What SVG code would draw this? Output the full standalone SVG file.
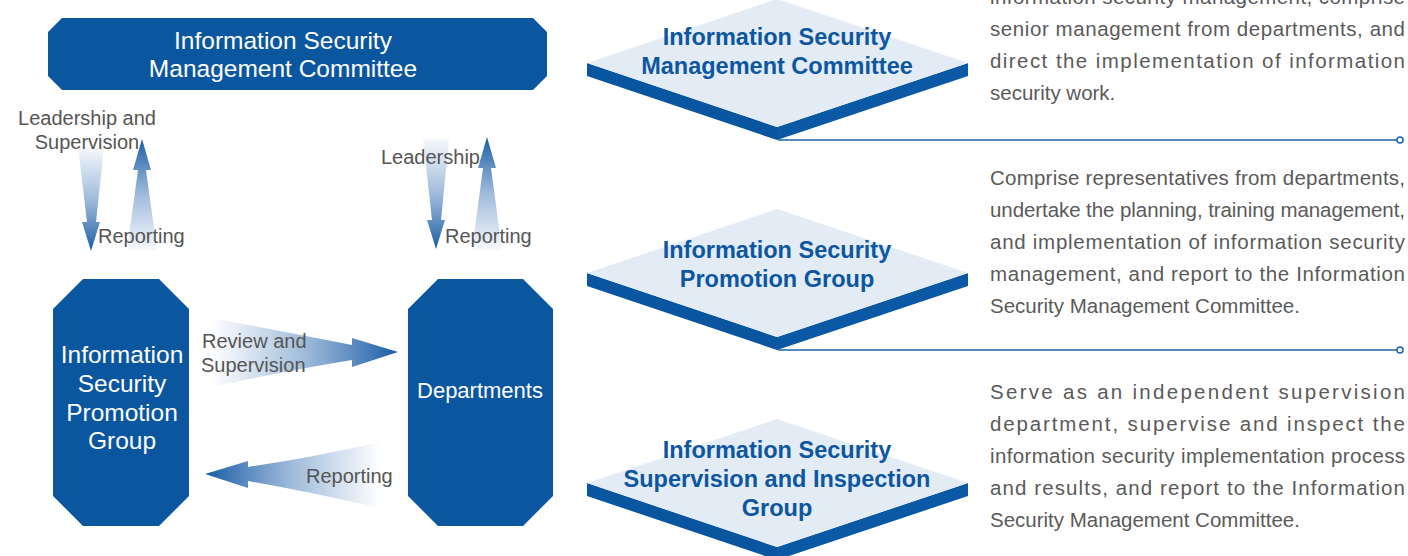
<svg xmlns="http://www.w3.org/2000/svg" width="1408" height="556" viewBox="0 0 1408 556">
<style>
.box{fill:#0a569f}
.wt{font-family:"Liberation Sans",Arial,sans-serif;fill:#ffffff;text-anchor:middle}
.lbl{font-family:"Liberation Sans",Arial,sans-serif;font-size:20px;fill:#555555}
.dtop{fill:#e3ecf5}
.dl{fill:#0a55a0}
.dr{fill:#0b58a4}
.dt{font-family:"Liberation Sans",Arial,sans-serif;font-size:23.5px;font-weight:bold;fill:#0d56a0;text-anchor:middle}
.desc{font-family:"Liberation Sans",Arial,sans-serif;font-size:20.5px;fill:#5a5a5a}
.sep{stroke:#1c62ab;stroke-width:1.5;fill:none}
.dot{stroke:#1c62ab;stroke-width:1.5;fill:#ffffff}
</style>
<defs>
<linearGradient id="gDown" x1="0" y1="0" x2="0" y2="1">
<stop offset="0" stop-color="#2a68ae" stop-opacity="0.04"/>
<stop offset="0.5" stop-color="#2a68ae" stop-opacity="0.45"/>
<stop offset="1" stop-color="#1a5ca6" stop-opacity="1"/>
</linearGradient>
<linearGradient id="gUp" x1="0" y1="1" x2="0" y2="0">
<stop offset="0" stop-color="#2a68ae" stop-opacity="0.04"/>
<stop offset="0.5" stop-color="#2a68ae" stop-opacity="0.45"/>
<stop offset="1" stop-color="#1a5ca6" stop-opacity="1"/>
</linearGradient>
<linearGradient id="gRight" x1="0" y1="0" x2="1" y2="0">
<stop offset="0" stop-color="#2a68ae" stop-opacity="0"/>
<stop offset="0.5" stop-color="#2a68ae" stop-opacity="0.45"/>
<stop offset="1" stop-color="#1a5ca6" stop-opacity="1"/>
</linearGradient>
<linearGradient id="gLeft" x1="1" y1="0" x2="0" y2="0">
<stop offset="0" stop-color="#2a68ae" stop-opacity="0"/>
<stop offset="0.5" stop-color="#2a68ae" stop-opacity="0.45"/>
<stop offset="1" stop-color="#1a5ca6" stop-opacity="1"/>
</linearGradient>
</defs>

<g id="connectors">
<path d="M78,147 L104,147 L96,222 L100,222 L91,251 L82,222 L87,222 Z" fill="url(#gDown)"/>
<path d="M142,139 L151,170 L146,170 L157,250 L127,250 L138,170 L133,170 Z" fill="url(#gUp)"/>
<path d="M423,139 L449,139 L441,220 L445,220 L436,249 L427,220 L432,220 Z" fill="url(#gDown)"/>
<path d="M487,137 L496,168 L491,168 L502,250 L472,250 L483,168 L478,168 Z" fill="url(#gUp)"/>
<path d="M212,318 Q290,333 352,345 L352,338 L398,352 L352,367 L352,360 Q290,370 212,387 Z" fill="url(#gRight)"/>
<path d="M205,474 L248,461 L248,467 Q310,458 380,442 L380,508 Q310,492 248,481 L248,488 Z" fill="url(#gLeft)"/>
<text class="lbl" x="87" y="125" text-anchor="middle">Leadership and</text>
<text class="lbl" x="87" y="149" text-anchor="middle">Supervision</text>
<text class="lbl" x="98" y="243">Reporting</text>
<text class="lbl" x="381" y="164">Leadership</text>
<text class="lbl" x="445" y="243">Reporting</text>
<text class="lbl" x="202" y="348">Review and</text>
<text class="lbl" x="201" y="372">Supervision</text>
<text class="lbl" x="306" y="483">Reporting</text>
</g>

<g id="node-committee">
<polygon class="box" points="62,18 533,18 547,32 547,76 533,90 62,90 48,76 48,32"/>
<text class="wt" x="283" y="49" font-size="24.5">Information Security</text>
<text class="wt" x="283" y="77" font-size="24.5">Management Committee</text>
</g>

<g id="node-promotion">
<polygon class="box" points="83,279 159,279 189,309 189,496 159,526 83,526 53,496 53,309"/>
<text class="wt" x="122" y="363" font-size="24.5">Information</text>
<text class="wt" x="122" y="392" font-size="24.5">Security</text>
<text class="wt" x="122" y="421" font-size="24.5">Promotion</text>
<text class="wt" x="122" y="449" font-size="24.5">Group</text>
</g>

<g id="node-departments">
<polygon class="box" points="438,279 523,279 553,309 553,496 523,526 438,526 408,496 408,309"/>
<text class="wt" x="480" y="398" font-size="22">Departments</text>
</g>

<g id="diamond-committee">
<polygon class="dl" points="587,63 777,127 777,140 587,76"/>
<polygon class="dr" points="777,127 968,63 968,76 777,140"/>
<polygon class="dtop" points="777,-1 968,63 777,127 587,63"/>
<text class="dt" x="777" y="45">Information Security</text>
<text class="dt" x="777" y="74">Management Committee</text>
</g>

<g id="diamond-promotion">
<polygon class="dl" points="587,273 777,337 777,350 587,286"/>
<polygon class="dr" points="777,337 968,273 968,286 777,350"/>
<polygon class="dtop" points="777,209 968,273 777,337 587,273"/>
<text class="dt" x="777" y="258">Information Security</text>
<text class="dt" x="777" y="287">Promotion Group</text>
</g>

<g id="diamond-inspection">
<polygon class="dl" points="587,483 777,547 777,560 587,496"/>
<polygon class="dr" points="777,547 968,483 968,496 777,560"/>
<polygon class="dtop" points="777,419 968,483 777,547 587,483"/>
<text class="dt" x="777" y="458">Information Security</text>
<text class="dt" x="777" y="487">Supervision and Inspection</text>
<text class="dt" x="777" y="516">Group</text>
</g>

<g id="separators">
<line class="sep" x1="778" y1="140" x2="1397" y2="140"/>
<circle class="dot" cx="1400" cy="140" r="3"/>
<line class="sep" x1="778" y1="350" x2="1397" y2="350"/>
<circle class="dot" cx="1400" cy="350" r="3"/>
</g>

<g id="desc-committee">
<text class="desc" x="990" y="4" textLength="415" lengthAdjust="spacing">information security management, comprise</text>
<text class="desc" x="990" y="36" textLength="415" lengthAdjust="spacing">senior management from departments, and</text>
<text class="desc" x="990" y="68" textLength="415" lengthAdjust="spacing">direct the implementation of information</text>
<text class="desc" x="990" y="100">security work.</text>
</g>

<g id="desc-promotion">
<text class="desc" x="990" y="185" textLength="415" lengthAdjust="spacing">Comprise representatives from departments,</text>
<text class="desc" x="990" y="217" textLength="415" lengthAdjust="spacing">undertake the planning, training management,</text>
<text class="desc" x="990" y="249" textLength="415" lengthAdjust="spacing">and implementation of information security</text>
<text class="desc" x="990" y="281" textLength="415" lengthAdjust="spacing">management, and report to the Information</text>
<text class="desc" x="990" y="313">Security Management Committee.</text>
</g>

<g id="desc-inspection">
<text class="desc" x="990" y="399" textLength="415" lengthAdjust="spacing">Serve as an independent supervision</text>
<text class="desc" x="990" y="431" textLength="415" lengthAdjust="spacing">department, supervise and inspect the</text>
<text class="desc" x="990" y="463" textLength="415" lengthAdjust="spacing">information security implementation process</text>
<text class="desc" x="990" y="495" textLength="415" lengthAdjust="spacing">and results, and report to the Information</text>
<text class="desc" x="990" y="527">Security Management Committee.</text>
</g>
</svg>
